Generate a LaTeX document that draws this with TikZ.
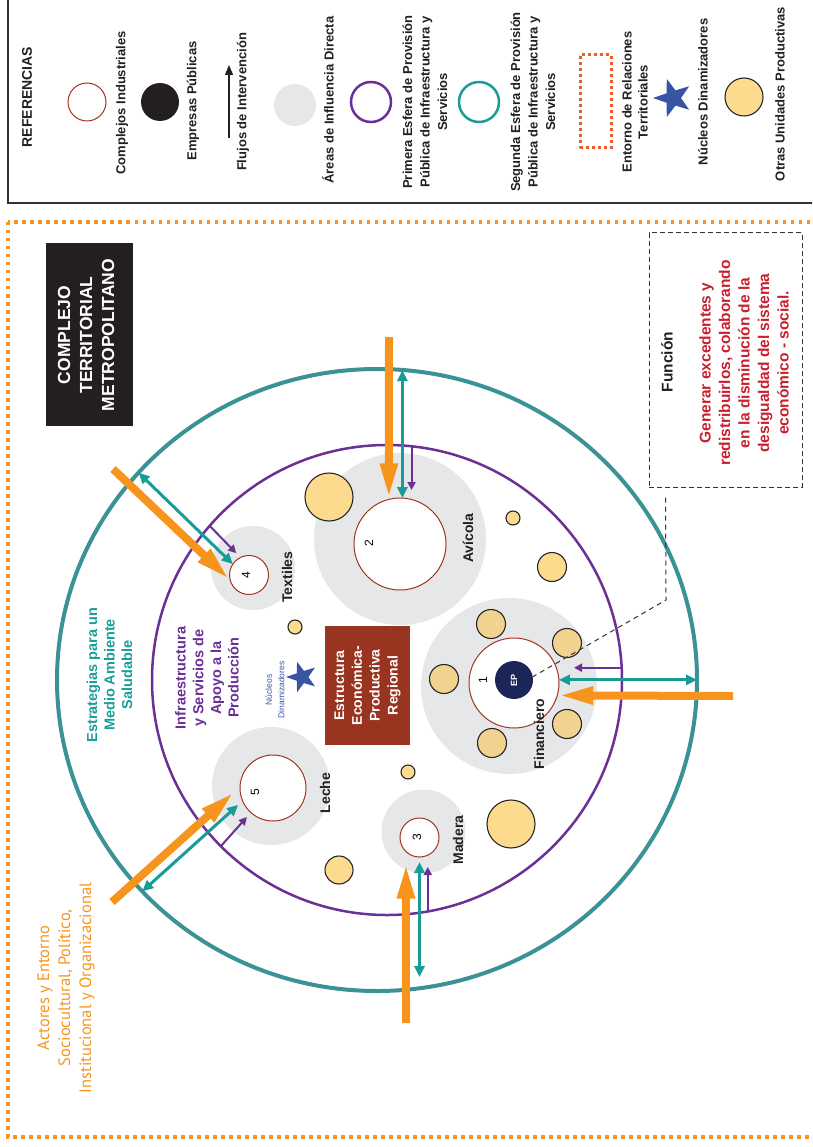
\documentclass[tikz,border=0pt]{standalone}
\usepackage{fontspec}
\setmainfont{Liberation Sans}
\newfontfamily\ptsans{PT Sans}
\usetikzlibrary{arrows.meta,shapes.geometric}

\definecolor{anillo}{RGB}{58,145,150}
\definecolor{verdeag}{RGB}{26,156,150}
\definecolor{verdetxt}{RGB}{26,158,154}
\definecolor{morado}{RGB}{106,48,150}
\definecolor{grisarea}{RGB}{230,231,232}
\definecolor{amarillo}{RGB}{252,218,142}
\definecolor{amarillog}{RGB}{241,210,143}
\definecolor{rojocplx}{RGB}{162,52,32}
\definecolor{cafe}{RGB}{153,52,33}
\definecolor{naranja}{RGB}{247,148,29}
\definecolor{naranjarojo}{RGB}{241,90,41}
\definecolor{rojotxt}{RGB}{200,32,46}
\definecolor{marino}{RGB}{28,37,87}
\definecolor{azulnd}{RGB}{58,84,164}
\definecolor{negrot}{RGB}{35,31,32}

\begin{document}
\begin{tikzpicture}[x=1pt, y=-1pt]
\tikzstyle{cplx}=[circle, draw=rojocplx, fill=white, line width=1pt, inner sep=0pt, outer sep=0pt]
\tikzstyle{area}=[circle, fill=grisarea, inner sep=0pt]
\tikzstyle{unid}=[circle, draw=black!85, fill=amarillo, line width=1.1pt, inner sep=0pt]
\tikzstyle{unidg}=[unid, fill=amarillog]
\tikzstyle{rot}=[rotate=90, align=center, inner sep=0pt]
\tikzstyle{leg}=[rot, text=negrot, font=\bfseries\fontsize{13}{17.5}\selectfont]
\tikzstyle{sector}=[rot, text=negrot, font=\bfseries\fontsize{14}{16}\selectfont]
\tikzstyle{num}=[rot, font=\fontsize{12}{12}\selectfont]
\tikzstyle{flujo}=[draw=naranja, line width=8pt, -{Triangle[width=16pt,length=36pt]}]
\tikzstyle{doble}=[draw=verdeag, line width=3pt, {Triangle[width=10pt,length=11pt]}-{Triangle[width=10pt,length=11pt]}]
\tikzstyle{prov}=[draw=morado, line width=2pt, -{Triangle[width=8pt,length=8pt]}]
\tikzstyle{nucleo}=[star, star points=5, star point ratio=2.5, fill=azulnd, inner sep=0pt, shape border rotate=90]
\path[use as bounding box, clip] (0,0) rectangle (812,1147);
% marcos
\draw[line width=1.3pt, black!80] (8,-10) rectangle (830,203);
\draw[naranja, line width=3.5pt, dash pattern=on 3.5pt off 4.5pt] (8,222) rectangle (830,1137);

% referencias
\node[rot, text=negrot, font=\bfseries\fontsize{14}{17}\selectfont] (ref) at (27,97) {REFERENCIAS};
\node[cplx, minimum size=38] (lcplx) at (87,102) {};
\node[leg] (tcplx) at (122,103) {Complejos Industriales};
\node[circle, fill=negrot, minimum size=38, inner sep=0pt] (lep) at (160,102) {};
\node[leg] (tep) at (193,101) {Empresas Públicas};
\coordinate (lfa) at (229,138);
\coordinate (lfb) at (229,65);
\draw[line width=1.2pt, negrot, -{Triangle[width=8pt,length=10pt]}] (lfa) -- (lfb);
\node[leg] (tflujo) at (243,102) {Flujos de Intervención};
\node[area, minimum size=42] (larea) at (295,105) {};
\node[leg] (tarea) at (328,100) {Áreas de Influencia Directa};
\node[circle, draw=morado, line width=2.5pt, minimum size=40, inner sep=0pt] (lesf1) at (371,102) {};
\node[leg] (tesf1) at (425,102) {Primera Esfera de Provisión\\Pública de Infraestructura y\\Servicios};
\node[circle, draw=verdeag, line width=2.5pt, minimum size=40, inner sep=0pt] (lesf2) at (479,102) {};
\node[leg] (tesf2) at (533,102) {Segunda Esfera de Provisión\\Pública de Infraestructura y\\Servicios};
\node[draw=naranjarojo, line width=3pt, dash pattern=on 3pt off 3pt, minimum width=31, minimum height=93, inner sep=0pt] (lent) at (595.5,101.5) {};
\node[leg, font=\bfseries\fontsize{13}{16}\selectfont] (tent) at (635,102) {Entorno de Relaciones\\Territoriales};
\node[nucleo, minimum size=40] (lnuc) at (673,98) {};
\node[leg] (tnuc) at (703,92) {Núcleos Dinamizadores};
\node[unid, minimum size=38] (lunid) at (744,97) {};
\node[leg] (tunid) at (780,94) {Otras Unidades Productivas};

% titulo y funcion
\node[fill=negrot, minimum width=87, minimum height=183, inner sep=0pt] (titulo) at (89.5,334.5) {};
\node[rot, text=white, font=\bfseries\fontsize{17.5}{22}\selectfont] (titulotxt) at (86,335) {COMPLEJO\\TERRITORIAL\\METROPOLITANO};
\node[draw=black!80, line width=1pt, dash pattern=on 5pt off 3pt, minimum width=153, minimum height=254, inner sep=0pt] (funcion) at (725.5,360) {};
\node[rot, text=negrot, font=\bfseries\fontsize{15.5}{19}\selectfont] (funciontit) at (667,362) {Función};
\node[rot, text=rojotxt, font=\bfseries\fontsize{15.5}{19.5}\selectfont] (funciontxt) at (744,363) {Generar excedentes y\\redistribuirlos, colaborando\\en la disminución de la\\desigualdad del sistema\\económico - social.};

% esferas
\node[ellipse, draw=anillo, line width=4pt, minimum width=640, minimum height=622, inner sep=0pt, outer sep=0pt] (esf2) at (377,680) {};
\node[circle, draw=morado, line width=2.5pt, minimum size=470, inner sep=0pt, outer sep=0pt] (esf1) at (387,680) {};

% areas de influencia
\node[area, minimum size=172] (a2) at (400,539) {};
\node[area, minimum size=84] (a4) at (253,568) {};
\node[area, minimum size=176] (a1) at (509,686) {};
\node[area, minimum size=118] (a5) at (271,786) {};
\node[area, minimum size=84] (a3) at (423.5,831.5) {};

% otras unidades
\foreach \i/\j/\k/\n in {329/497/24/a, 513/518/7/b, 552/567/14.5/c, 295/627/7/d, 408/772/7/e, 339/870/14/f, 511/824/24/g}{\node[unid, minimum size=2*\k] (u\n) at (\i,\j) {};}
\foreach \i/\j/\n in {491/624/h, 567/643/i, 444/679/j, 492/743/k, 567/724/l}{\node[unidg, minimum size=29] (u\n) at (\i,\j) {};}

% complejos
\node[cplx, minimum size=92] (c2) at (400,544) {};
\node[cplx, minimum size=39] (c4) at (249,575) {};
\node[cplx, minimum size=90] (c1) at (514,683) {};
\node[cplx, minimum size=66] (c5) at (273,788) {};
\node[cplx, minimum size=39] (c3) at (419.5,837.5) {};
\node[circle, fill=marino, minimum size=38, inner sep=0pt, text=white, font=\bfseries\fontsize{9}{9}\selectfont] (ep) at (514,680) {\rotatebox{90}{EP}};
\node[num] (n1) at (483,680) {1};
\node[num] (n2) at (369,543) {2};
\node[num] (n3) at (417,837) {3};
\node[num] (n4) at (246,575) {4};
\node[num] (n5) at (255,792) {5};
\node[sector] (avicola) at (468,538) {Avícola};
\node[sector] (textiles) at (287,577) {Textiles};
\node[sector] (financiero) at (539,734) {Financiero};
\node[sector] (leche) at (325,793) {Leche};
\node[sector] (madera) at (458,840) {Madera};

\node[rot, fill=cafe, text=white, font=\bfseries\fontsize{14}{17.8}\selectfont, minimum width=119, minimum height=85] (estructura) at (367.5,685.5) {Estructura\\Económica-\\Productiva\\Regional};
\node[nucleo, minimum size=32] (nucleo) at (302,677) {};
\node[rot, text=azulnd, font=\fontsize{8.5}{12.5}\selectfont] (nucleotxt) at (275,690) {Núcleos\\Dinamizadores};

\node[rot, text=verdetxt, font=\bfseries\fontsize{14.5}{17.5}\selectfont] (estrategias) at (109.5,675) {Estrategias para un\\Medio Ambiente\\Saludable};
\node[rot, text=morado, font=\bfseries\fontsize{14.5}{17.7}\selectfont] (infra) at (207,678) {Infraestructura\\y Servicios de\\Apoyo a la\\Producción};
\node[rot, text=naranja, font=\ptsans\fontsize{16.5}{21}\selectfont] (actores) at (66,988) {Actores y Entorno\\Sociocultural, Político,\\Institucional y Organizacional};

\coordinate (quiebre) at (666,600);
\draw[black!80, line width=1pt, dash pattern=on 5pt off 4pt] ([xshift=17pt,yshift=-10pt]funcion.south west) -- (quiebre) -- (ep.10);

% flujos
\coordinate (fo1) at (733,696);
\coordinate (fo2) at (389,337);
\coordinate (fo3) at (406,1023);
\coordinate (fo4) at (113,469);
\coordinate (fo5) at (112,902);
\draw[prov, shorten >=8pt] (esf1.84) -- (esf1.84 |- c2.north);
\draw[prov, shorten >=15pt] (esf1.3) -- (esf1.3 -| c1.east);
\draw[prov, shorten >=10pt] (esf1.-80) -- (esf1.-80 |- c3.south);
\draw[prov, shorten >=6pt] (esf1.139) -- (c4.116);
\draw[prov, shorten >=6pt] (esf1.225) -- (c5.228);
\draw[doble] (c2.87 |- esf2.85) -- (c2.87);
\draw[doble] (c1.4) -- (c1.4 -| esf2.0);
\draw[doble, shorten <=5pt, shorten >=11pt] (c3.270) -- (c3.270 |- esf2.-82);
\draw[doble] (c4.146) -- (esf2.139);
\draw[doble, shorten <=6pt] (c5.203) -- (esf2.222);
\draw[flujo] (fo2) -- (c2.104);
\draw[flujo] (fo1) -- (c1.-16);
\draw[flujo, shorten >=11pt] (fo3) -- (c3.226);
\draw[flujo] (fo4) -- (c4.195);
\draw[flujo, shorten >=7pt] (fo5) -- (c5.178);
\end{tikzpicture}
\end{document}
